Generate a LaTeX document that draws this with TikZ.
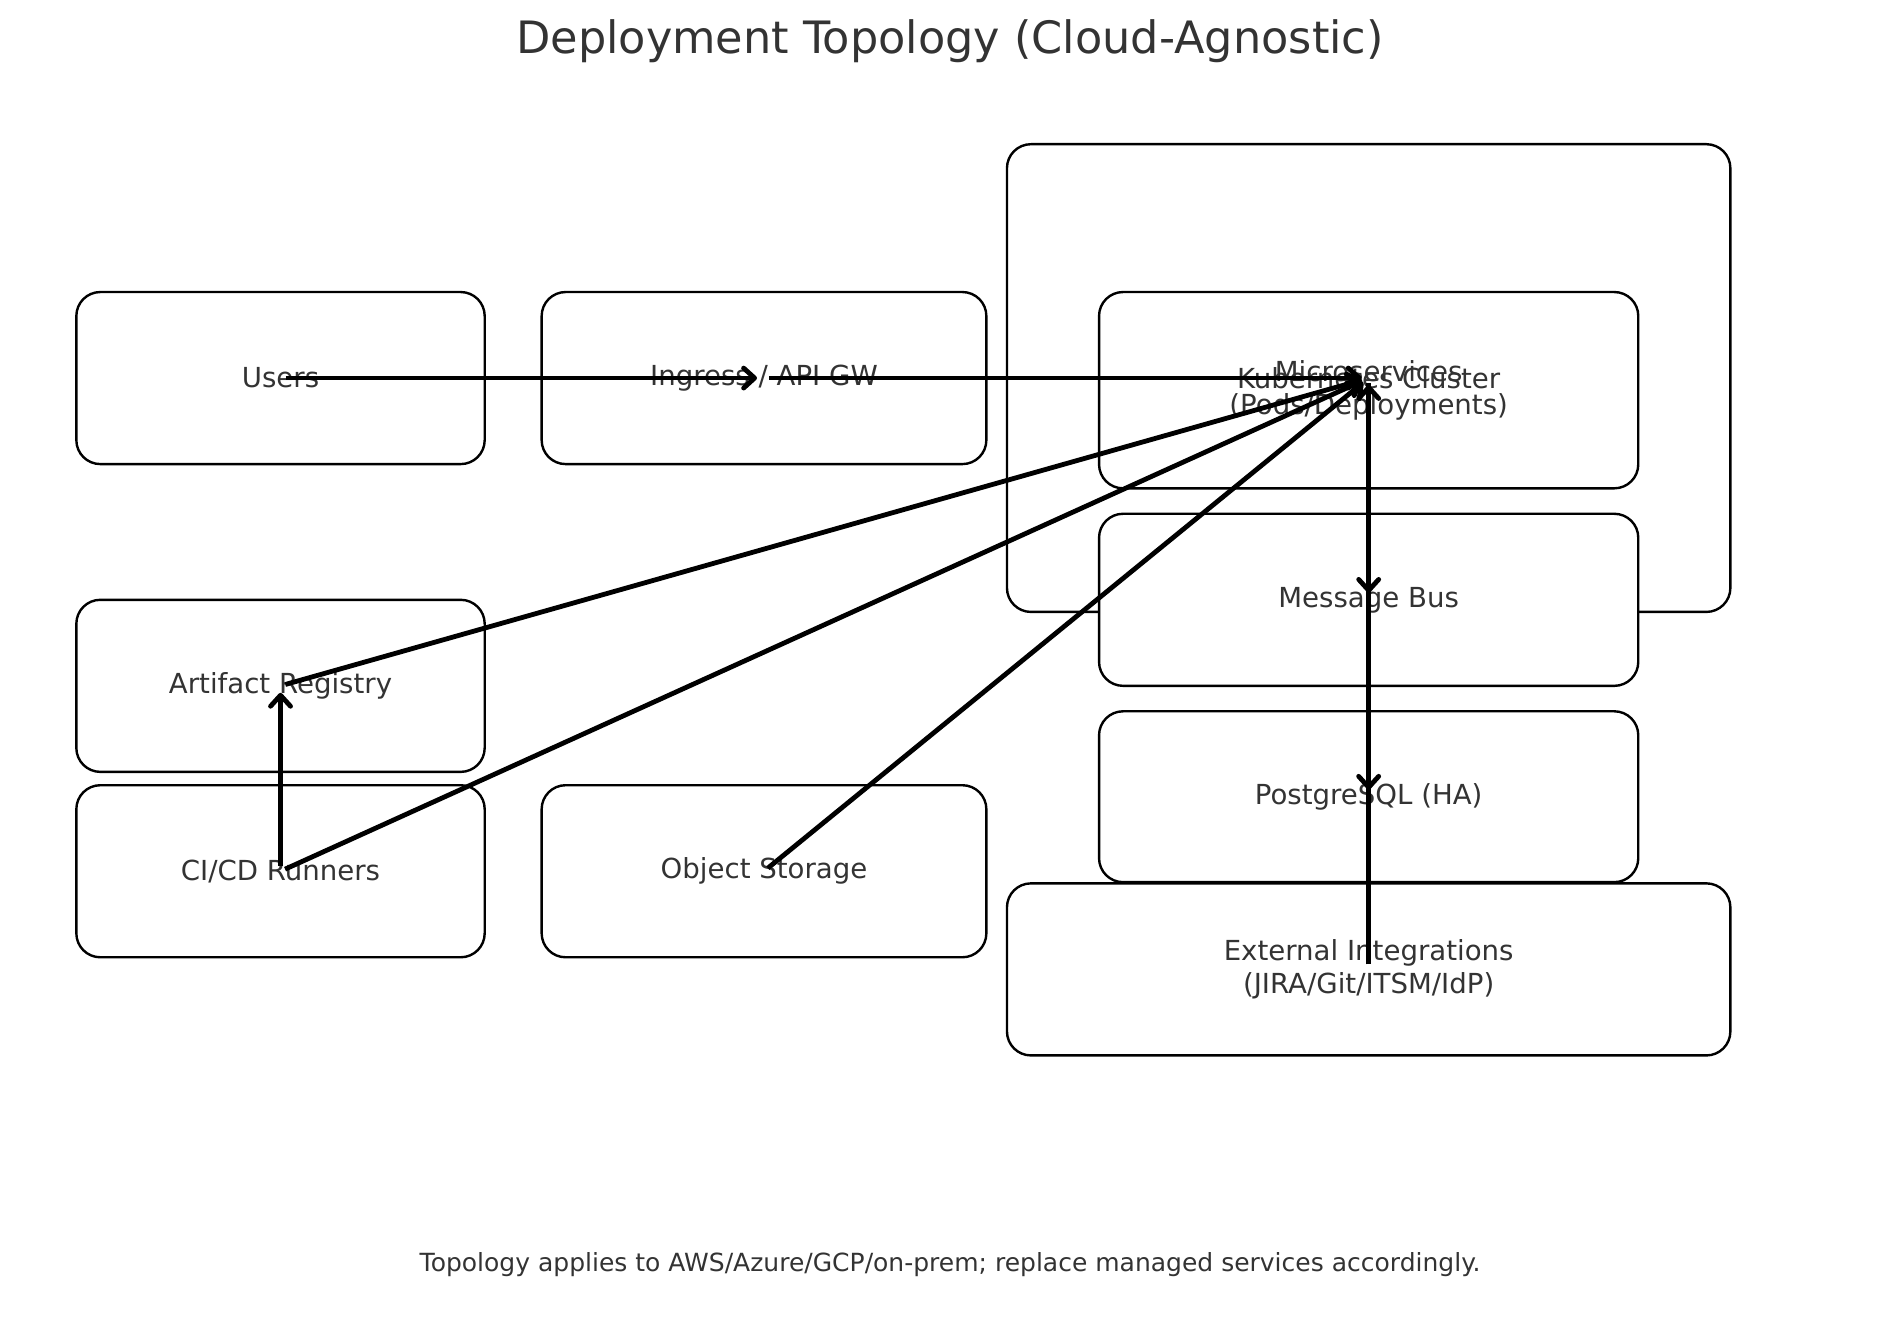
\documentclass[tikz,border=0pt]{standalone}
\usepackage{fontspec}
\setmainfont{DejaVu Sans}
\usetikzlibrary{arrows.meta}
\definecolor{txt}{HTML}{333333}
\tikzset{
  box/.style={draw=black, line width=1.2pt, fill=white, rounded corners=12pt,
    inner sep=0pt, outer sep=0pt},
  lbl/.style={text=txt, font=\fontsize{13.8pt}{16.5pt}\selectfont, align=center, inner sep=0pt},
  conn/.style={line width=2.4pt, -{Straight Barb[length=5.5pt,width=10pt,round]},
    shorten >=3.5pt, shorten <=2.5pt},
}
\begin{document}
\begin{tikzpicture}[x=0.60585pt, y=-0.60585pt]
\useasboundingbox (0,0) rectangle (1568,1091);
% title
\node[text=txt, font=\fontsize{22.3pt}{26pt}\selectfont, inner sep=0pt] (title) at (784,34) {Deployment Topology (Cloud-Agnostic)};
% boxes
\node[box, minimum width=597*0.60585pt, minimum height=386*0.60585pt] (k8s) at (1129.5,312) {};
\node[box, minimum width=337*0.60585pt, minimum height=142*0.60585pt] (users) at (231.5,312) {};
\node[box, minimum width=367*0.60585pt, minimum height=142*0.60585pt] (ingress) at (630.5,312) {};
\node[box, minimum width=445*0.60585pt, minimum height=162*0.60585pt] (micro) at (1129.5,322) {};
\node[box, minimum width=445*0.60585pt, minimum height=142*0.60585pt] (bus) at (1129.5,495) {};
\node[box, minimum width=445*0.60585pt, minimum height=141*0.60585pt] (pg) at (1129.5,657.5) {};
\node[box, minimum width=597*0.60585pt, minimum height=142*0.60585pt] (ext) at (1129.5,800) {};
\node[box, minimum width=337*0.60585pt, minimum height=142*0.60585pt] (art) at (231.5,566) {};
\node[box, minimum width=337*0.60585pt, minimum height=142*0.60585pt] (cicd) at (231.5,719) {};
\node[box, minimum width=367*0.60585pt, minimum height=142*0.60585pt] (obj) at (630.5,719) {};
\coordinate (ms) at (1129.5,312);
% labels
\node[lbl] at (users.center) {Users};
\node[lbl] at (ingress.center) {Ingress / API GW};
\node[lbl] at (k8s.center) {Kubernetes Cluster};
\node[lbl] at (micro.center) {Microservices\\(Pods/Deployments)};
\node[lbl] at (bus.center) {Message Bus};
\node[lbl] at (pg.center) {PostgreSQL (HA)};
\node[lbl] at (ext.center) {External Integrations\\(JIRA/Git/ITSM/IdP)};
\node[lbl] at (art.center) {Artifact Registry};
\node[lbl] at (cicd.center) {CI/CD Runners};
\node[lbl] at (obj.center) {Object Storage};
% connectors
\draw[conn] (users.center) -- (ingress.center);
\draw[conn] (ingress.center) -- (ms);
\draw[conn] (art.center) -- (ms);
\draw[conn] (cicd.center) -- (ms);
\draw[conn] (obj.center) -- (ms);
\draw[conn] (cicd.center) -- (art.center);
\draw[conn] (ms) -- (bus.center);
\draw[conn] (bus.center) -- (pg.center);
\draw[conn] (ext.center) -- (ms);
% footer
\node[text=txt, font=\fontsize{12.5pt}{15pt}\selectfont, inner sep=0pt] (foot) at (784,1044) {Topology applies to AWS/Azure/GCP/on-prem; replace managed services accordingly.};
\end{tikzpicture}
\end{document}
